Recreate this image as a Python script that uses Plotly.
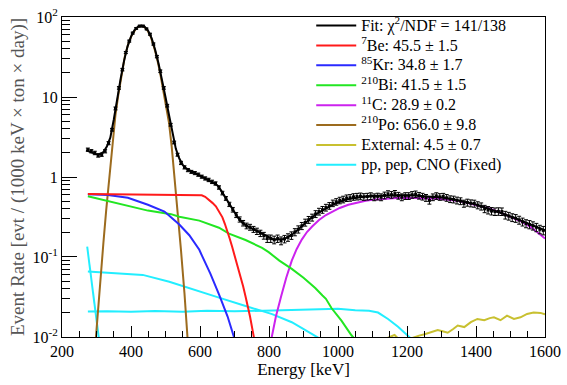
import plotly.graph_objects as go

# ---------------- data ----------------
energy = [275, 285, 295, 305, 315, 325, 335, 345, 355, 365,
          375, 385, 395, 405, 415, 425, 435, 445, 455, 465,
          475, 485, 495, 505, 515, 525, 535, 545, 555, 565,
          575, 585, 595, 605, 615, 625, 635, 645, 655, 665,
          675, 685, 695, 705, 715, 725, 735, 745, 755, 765,
          775, 785, 795, 805, 815, 825, 835, 845, 855, 865,
          875, 885, 895, 905, 915, 925, 935, 945, 955, 965,
          975, 985, 995, 1005, 1015, 1025, 1035, 1045, 1055, 1065,
          1075, 1085, 1095, 1105, 1115, 1125, 1135, 1145, 1155, 1165,
          1175, 1185, 1195, 1205, 1215, 1225, 1235, 1245, 1255, 1265,
          1275, 1285, 1295, 1305, 1315, 1325, 1335, 1345, 1355, 1365,
          1375, 1385, 1395, 1405, 1415, 1425, 1435, 1445, 1455, 1465,
          1475, 1485, 1495, 1505, 1515, 1525, 1535, 1545, 1555, 1565,
          1575, 1585, 1595]
rate = [2.2, 2.1, 2.0, 1.86, 1.9, 2.1, 2.65, 3.9, 7.2, 13,
        22, 36, 50, 63, 72, 77, 77, 71, 61, 46,
        32, 21, 13, 7.8, 4.5, 2.7, 1.9, 1.5, 1.32, 1.22,
        1.16, 1.12, 1.07, 1.01, 0.96, 0.92, 0.87, 0.83, 0.74, 0.63,
        0.54, 0.455, 0.39, 0.335, 0.295, 0.265, 0.245, 0.236, 0.222, 0.21,
        0.198, 0.185, 0.17, 0.17, 0.164, 0.17, 0.16, 0.168, 0.176, 0.186,
        0.205, 0.222, 0.245, 0.27, 0.292, 0.312, 0.345, 0.37, 0.39, 0.415,
        0.437, 0.47, 0.49, 0.51, 0.525, 0.545, 0.55, 0.565, 0.57, 0.575,
        0.565, 0.57, 0.578, 0.56, 0.572, 0.56, 0.59, 0.615, 0.6, 0.62,
        0.585, 0.56, 0.58, 0.58, 0.6, 0.61, 0.585, 0.57, 0.55, 0.51,
        0.56, 0.58, 0.565, 0.57, 0.55, 0.53, 0.525, 0.51, 0.5, 0.466,
        0.48, 0.47, 0.466, 0.445, 0.43, 0.40, 0.386, 0.375, 0.37, 0.372,
        0.37, 0.335, 0.325, 0.312, 0.305, 0.29, 0.275, 0.262, 0.255, 0.246,
        0.235, 0.222, 0.215]
rate_err = [0.1, 0.1, 0.1, 0.09, 0.09, 0.1, 0.12, 0.16, 0.3, 0.5,
            0.8, 1.1, 1.4, 1.6, 1.7, 1.8, 1.8, 1.7, 1.6, 1.4,
            1.1, 0.8, 0.5, 0.3, 0.18, 0.11, 0.08, 0.07, 0.06, 0.055,
            0.05, 0.05, 0.05, 0.045, 0.045, 0.045, 0.042, 0.04, 0.037, 0.033,
            0.03, 0.028, 0.026, 0.024, 0.022, 0.021, 0.02, 0.02, 0.019, 0.019,
            0.018, 0.018, 0.018, 0.018, 0.018, 0.018, 0.018, 0.018, 0.019, 0.02,
            0.021, 0.023, 0.025, 0.027, 0.029, 0.031, 0.034, 0.036, 0.038, 0.04,
            0.042, 0.044, 0.046, 0.048, 0.05, 0.051, 0.052, 0.053, 0.054, 0.055,
            0.054, 0.055, 0.056, 0.055, 0.055, 0.055, 0.057, 0.058, 0.057, 0.058,
            0.057, 0.055, 0.056, 0.056, 0.057, 0.058, 0.056, 0.055, 0.054, 0.052,
            0.054, 0.055, 0.054, 0.054, 0.053, 0.051, 0.051, 0.05, 0.049, 0.047,
            0.048, 0.047, 0.047, 0.045, 0.044, 0.042, 0.041, 0.04, 0.04, 0.04,
            0.04, 0.037, 0.036, 0.035, 0.034, 0.033, 0.031, 0.03, 0.03, 0.029,
            0.028, 0.027, 0.026]

fit_energy = [270, 280, 290, 300, 310, 320, 330, 340, 350, 360,
              370, 380, 390, 400, 410, 420, 430, 440, 450, 460,
              470, 480, 490, 500, 510, 520, 530, 540, 550, 560,
              570, 580, 600, 620, 640,
              650, 660, 670, 680, 690, 700, 710, 720, 730, 740,
              750, 760, 770, 780, 790, 800, 810, 820, 830, 840,
              850, 860, 870, 880, 890, 900,
              920, 940, 960, 980, 1000, 1020, 1040, 1060, 1080, 1100, 1120,
              1150, 1180, 1210, 1240, 1270, 1300, 1330, 1360, 1390, 1420,
              1450, 1480, 1510, 1540, 1570, 1600]
fit_rate = [2.15, 2.06, 1.97, 1.92, 1.93, 2.05, 2.4, 3.1, 5.2, 9.8,
            17, 28.5, 43, 57, 68.5, 75.5, 78, 75.5, 67, 54,
            39, 26, 16.5, 10, 6.0, 3.5, 2.25, 1.7, 1.42, 1.28,
            1.2, 1.14, 1.04, 0.94, 0.85,
            0.79, 0.69, 0.59, 0.5, 0.425, 0.36, 0.31, 0.278, 0.254, 0.24,
            0.228, 0.216, 0.205, 0.193, 0.182, 0.174, 0.168, 0.166, 0.166, 0.168,
            0.173, 0.182, 0.195, 0.212, 0.232, 0.255,
            0.302, 0.35, 0.395, 0.44, 0.48, 0.515, 0.54, 0.56, 0.572, 0.58, 0.585,
            0.59, 0.592, 0.59, 0.582, 0.57, 0.555, 0.53, 0.5, 0.465, 0.425,
            0.385, 0.345, 0.31, 0.275, 0.245, 0.215]

be7_energy = [275, 350, 450, 550, 590, 605, 615, 626, 636, 646, 656, 665, 672,
              679, 686, 693, 705, 715, 725, 732, 745, 757]
be7_rate = [0.615, 0.612, 0.607, 0.603, 0.6, 0.59, 0.565, 0.52, 0.475, 0.43, 0.37,
            0.313, 0.26, 0.215, 0.17, 0.135, 0.09, 0.062, 0.043, 0.032, 0.018, 0.0095]

kr85_energy = [275, 333, 391, 449, 497, 540, 569, 598, 606, 630, 655, 680, 700]
kr85_rate = [0.61, 0.597, 0.55, 0.45, 0.37, 0.255, 0.187, 0.123, 0.103, 0.062,
             0.034, 0.018, 0.0095]

bi210_energy = [275, 333, 391, 449, 516, 540, 598, 655, 684, 732, 780, 799, 830,
                866, 900, 934, 955, 965, 981, 1010, 1039, 1048]
bi210_rate = [0.575, 0.50, 0.43, 0.38, 0.343, 0.318, 0.285, 0.232, 0.196, 0.163,
              0.13, 0.115, 0.09, 0.071, 0.055, 0.041, 0.033, 0.03, 0.023, 0.016,
              0.0105, 0.0095]

c11_energy = [807, 820, 835, 850, 866, 880, 895, 910, 925, 945, 965, 985, 1005,
              1030, 1055, 1080, 1110, 1140, 1170, 1200, 1230, 1260, 1290, 1320,
              1350, 1380, 1410, 1440, 1470, 1500, 1530, 1560, 1600]
c11_rate = [0.0095, 0.018, 0.032, 0.055, 0.09, 0.125, 0.165, 0.205, 0.24, 0.29,
            0.335, 0.375, 0.41, 0.45, 0.48, 0.505, 0.525, 0.54, 0.548, 0.552,
            0.55, 0.545, 0.535, 0.52, 0.5, 0.47, 0.435, 0.4, 0.36, 0.32, 0.28,
            0.235, 0.17]

po210_energy = [298, 305, 312, 320, 328, 337, 347, 355, 363, 372, 382, 392, 402,
                412, 421, 430, 439, 448, 457, 466, 475, 484, 492, 500, 510, 518,
                526, 535, 545, 555, 564]
po210_rate = [0.0095, 0.025, 0.06, 0.15, 0.38, 1.0, 2.9, 6.0, 10.5, 19, 32, 46,
              59, 69, 75.5, 77.5, 75, 68, 57, 43, 31, 20.5, 13.5, 9.0, 4.8, 2.4,
              1.0, 0.4, 0.12, 0.035, 0.0095]

ext_energy = [1135, 1145, 1155, 1164, 1175, 1185, 1200, 1212, 1222, 1235, 1251,
              1270, 1289, 1303, 1318, 1333, 1347, 1366, 1385, 1404, 1424, 1440,
              1452, 1471, 1490, 1510, 1529, 1548, 1567, 1587, 1600]
ext_rate = [0.008, 0.0098, 0.0102, 0.0106, 0.0095, 0.0088, 0.0092, 0.0096,
            0.0101, 0.0104, 0.0108, 0.0115, 0.0122, 0.0118, 0.0113, 0.0125,
            0.0139, 0.0133, 0.0153, 0.0168, 0.0162, 0.0172, 0.0176, 0.0162,
            0.0185, 0.0168, 0.0176, 0.0194, 0.0202, 0.02, 0.0192]

pp_energy = [273, 282, 290, 298, 307]
pp_rate = [0.135, 0.068, 0.037, 0.02, 0.0095]

pep_energy = [275, 330, 400, 470, 550, 620, 700, 780, 860, 940, 1000, 1050,
              1090, 1116, 1145, 1174, 1203, 1212]
pep_rate = [0.0208, 0.021, 0.0206, 0.0211, 0.0207, 0.0212, 0.0209, 0.0213,
            0.0214, 0.0222, 0.0225, 0.0216, 0.0212, 0.0202, 0.0168, 0.0134,
            0.0103, 0.0095]

cno_energy = [275, 338, 434, 511, 578, 655, 732, 809, 866, 915, 948]
cno_rate = [0.066, 0.063, 0.0597, 0.049, 0.040, 0.031, 0.0244, 0.0193, 0.0153,
            0.0116, 0.0095]

legend_names = {
    "fit": "Fit: \u03c7<sup>2</sup>/NDF = 141/138",
    "be7": "<sup>7</sup>Be: 45.5 \u00b1 1.5",
    "kr85": "<sup>85</sup>Kr: 34.8 \u00b1 1.7",
    "bi210": "<sup>210</sup>Bi: 41.5 \u00b1 1.5",
    "c11": "<sup>11</sup>C: 28.9 \u00b1 0.2",
    "po210": "<sup>210</sup>Po: 656.0 \u00b1 9.8",
    "ext": "External: 4.5 \u00b1 0.7",
    "cyan": "pp, pep, CNO (Fixed)",
}

y_tickvals = [0.01, 0.1, 1, 10, 100]
y_ticktext = ["10<sup>-2</sup>", "10<sup>-1</sup>", "1", "10", "10<sup>2</sup>"]
x_tickvals = [200, 400, 600, 800, 1000, 1200, 1400, 1600]

# ---------------- styles ----------------
FONT = "Liberation Serif, Times New Roman, DejaVu Serif, serif"
C_RED = "#ff1a1a"
C_BLUE = "#2a2aff"
C_GREEN = "#22e622"
C_MAG = "#cc22ee"
C_BROWN = "#9c6b1e"
C_YEL = "#c8c030"
C_CYAN = "#22eeff"
LW = 2


def big(s):
    return '<span style="font-size:16px">' + s + '</span>'


fig = go.Figure()


def comp(x, y, color, name, rank, show=True, group=None):
    fig.add_trace(go.Scatter(
        x=x, y=y, mode="lines", line=dict(color=color, width=LW),
        name=big(name), legendrank=rank, showlegend=show,
        legendgroup=group, hoverinfo="skip"))


comp(pp_energy, pp_rate, C_CYAN, legend_names["cyan"], 8, True, "cyan")
comp(pep_energy, pep_rate, C_CYAN, legend_names["cyan"], 8, False, "cyan")
comp(cno_energy, cno_rate, C_CYAN, legend_names["cyan"], 8, False, "cyan")
comp(ext_energy, ext_rate, C_YEL, legend_names["ext"], 7)
comp(po210_energy, po210_rate, C_BROWN, legend_names["po210"], 6)
comp(c11_energy, c11_rate, C_MAG, legend_names["c11"], 5)
comp(bi210_energy, bi210_rate, C_GREEN, legend_names["bi210"], 4)
comp(kr85_energy, kr85_rate, C_BLUE, legend_names["kr85"], 3)
comp(be7_energy, be7_rate, C_RED, legend_names["be7"], 2)
comp(fit_energy, fit_rate, "black", legend_names["fit"], 1)

fig.add_trace(go.Scatter(
    x=energy, y=rate, mode="markers",
    marker=dict(color="black", size=3, symbol="square"),
    error_y=dict(type="data", array=rate_err, color="black", thickness=1, width=2),
    showlegend=False, hoverinfo="skip"))

fig.update_layout(
    width=567, height=385,
    margin=dict(l=62, r=19, t=6, b=48),
    paper_bgcolor="white", plot_bgcolor="white",
    font=dict(family=FONT, size=16, color="black"),
    showlegend=True,
    legend=dict(
        x=0.516, y=1.02, xanchor="left", yanchor="top",
        bgcolor="rgba(255,255,255,0)", borderwidth=0,
        font=dict(family=FONT, size=13, color="black"),
        itemwidth=40, tracegroupgap=0,
    ),
)

fig.update_xaxes(
    type="linear", range=[200, 1600],
    tickmode="array", tickvals=x_tickvals,
    ticks="inside", ticklen=11, tickwidth=1, tickcolor="black",
    minor=dict(dtick=50, tick0=200, ticks="inside", ticklen=6, tickcolor="black", showgrid=False),
    showline=True, linecolor="black", linewidth=1, mirror=True,
    showgrid=False, zeroline=False,
    tickfont=dict(family=FONT, size=16, color="black"),
    title=dict(text="Energy [keV]", font=dict(family=FONT, size=17, color="black"), standoff=2),
)

y_minor = [m * 10 ** e for e in (-2, -1, 0, 1) for m in range(2, 10)]
fig.update_yaxes(
    type="log", range=[-2.0004, 2.0004],
    tickmode="array", tickvals=y_tickvals, ticktext=y_ticktext,
    ticklabeloverflow="allow",
    ticks="inside", ticklen=15, tickwidth=1, tickcolor="black",
    minor=dict(tickmode="array", tickvals=y_minor, ticks="inside", ticklen=8, tickcolor="black", showgrid=False),
    showline=True, linecolor="black", linewidth=1, mirror=True,
    showgrid=False, zeroline=False,
    tickfont=dict(family=FONT, size=16, color="black"),
    title=dict(text="Event Rate [evt / (1000 keV \u00d7 ton \u00d7 day)]",
               font=dict(family=FONT, size=19, color="#555555"), standoff=2),
)

fig.write_html("out.html", config={"displayModeBar": False},
               post_script="document.body.style.margin='0px';")
